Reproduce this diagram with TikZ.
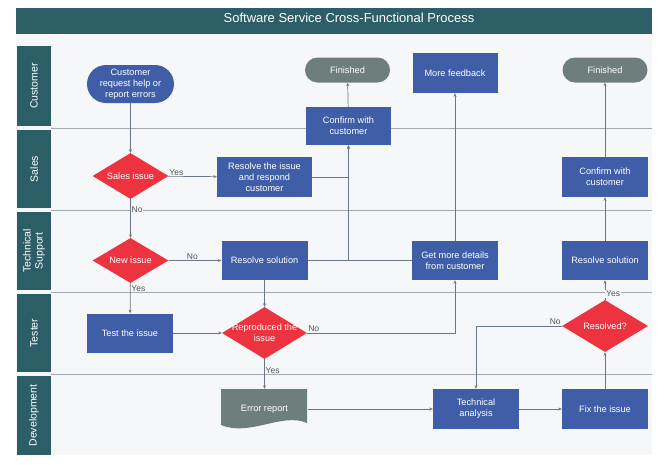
\documentclass[tikz,border=0pt]{standalone}
\usepackage{fontspec}
\setmainfont{Liberation Sans}
\usetikzlibrary{shapes.geometric,arrows.meta}

\definecolor{laneteal}{HTML}{2C5E67}
\definecolor{procblue}{HTML}{3F5EA7}
\definecolor{decred}{HTML}{EE3340}
\definecolor{termgray}{HTML}{6E7E7D}
\definecolor{panelbg}{HTML}{F6F7F8}
\definecolor{linegray}{HTML}{6B7686}
\definecolor{sepgray}{HTML}{A4AAAE}
\definecolor{textgray}{HTML}{505458}

\begin{document}
\begin{tikzpicture}[x=1pt,y=-1pt,
    proc/.style={rectangle,fill=procblue,text=white,minimum width=86pt,minimum height=39pt,
        inner sep=1pt,align=center,font=\fontsize{9.2}{11}\selectfont},
    term/.style={rectangle,rounded corners=12.5pt,fill=termgray,text=white,minimum width=85pt,
        minimum height=25pt,inner sep=1pt,font=\fontsize{9.2}{11}\selectfont},
    decide/.style={diamond,fill=decred,minimum width=76pt,minimum height=46pt,inner sep=0pt},
    dtxt/.style={text=white,align=center,inner sep=0pt,font=\fontsize{9.2}{11}\selectfont},
    lanelbl/.style={rectangle,fill=laneteal,text=white,rotate=90,minimum height=34pt,
        inner sep=0pt,align=center,font=\fontsize{10.5}{12}\selectfont},
    yn/.style={text=textgray,fill=panelbg,inner sep=0.8pt,font=\fontsize{8.5}{10}\selectfont},
    link/.style={draw=linegray,line width=0.7pt},
    linkto/.style={link,-{Stealth[length=3.5pt,width=3pt]}}]
\useasboundingbox (0,0) rectangle (669,464);
\fill[white] (0,0) rectangle (669,464);
\fill[panelbg] (16,35) rectangle (652,455);
\fill[laneteal] (16,8) rectangle (652,34);
\node[text=white,font=\fontsize{13}{15}\selectfont] (title) at (349,18) {Software Service Cross-Functional Process};

% lanes
\node[lanelbl,minimum width=80pt] (lcust) at (34,86) {Customer};
\node[lanelbl,minimum width=78pt] (lsales) at (34,169) {Sales};
\node[lanelbl,minimum width=78pt] (lsupp) at (34,251) {Technical\\Support};
\node[lanelbl,minimum width=78pt] (ltest) at (34,333) {Tester};
\node[lanelbl,minimum width=79pt] (ldev) at (34,415.5) {Development};
\foreach \y in {128,210,292,374}
    \draw[sepgray,line width=0.9pt] (51,\y) -- (652,\y);

% shapes
\node[proc,rounded corners=19pt,minimum width=87pt,minimum height=38pt] (cust) at (130.5,84) {Customer\\request help or\\report errors};
\node[term] (fin1) at (347.5,70) {Finished};
\node[proc,minimum width=85pt,minimum height=40pt] (more) at (455,73) {More feedback};
\node[term] (fin2) at (605,70) {Finished};
\node[proc,minimum width=85pt,minimum height=38pt] (conf1) at (348.5,126) {Confirm with\\customer};

\node[decide,label={[dtxt]center:Sales issue}] (s1) at (130.5,176) {};
\node[proc,minimum width=95pt,minimum height=40pt] (res1) at (264.5,177) {Resolve the issue\\and respond\\customer};
\node[proc,minimum height=40pt] (conf2) at (605,177) {Confirm with\\customer};

\node[decide,minimum height=45pt,label={[dtxt]center:New issue}] (s2) at (130.5,260.5) {};
\node[proc] (rs1) at (264.5,260.5) {Resolve solution};
\node[proc] (gmd) at (455,260.5) {Get more details\\from customer};
\node[proc] (rs2) at (605,260.5) {Resolve solution};

\node[proc] (test) at (130,333) {Test the issue};
\node[decide,minimum width=85pt,minimum height=52pt,label={[dtxt]center:Reproduced the\\issue}] (rep) at (264.5,333) {};
\node[decide,minimum width=86pt,minimum height=52pt,label={[dtxt]center:Resolved?}] (rsd) at (605,326) {};

\fill[termgray] (221,389) -- (307,389) -- (307,423) .. controls (282,412) and (250,437) .. (221,425) -- cycle;
\node[text=white,minimum width=86pt,minimum height=40pt,font=\fontsize{9.2}{11}\selectfont] (err) at (264.5,409) {Error report};
\node[proc,minimum height=40pt] (ta) at (476,409) {Technical\\analysis};
\node[proc,minimum height=40pt] (fix) at (605,409) {Fix the issue};

% connectors
\draw[linkto] (cust) -- (s1);
\draw[linkto] (s1) -- node[yn,above right,pos=0] (yes1) {Yes} (res1);
\draw[linkto] (s1) -- node[yn,right,pos=0.27] (no1) {No} (s2);
\draw[linkto] (s2) -- node[yn,above,pos=0.45] (no2) {No} (rs1);
\draw[linkto] (s2) -- node[yn,right,pos=0.17] (yes2) {Yes} (test);
\draw[link] (rs1) -- (gmd);
\draw[linkto] (res1) -| (conf1);
\draw[linkto] (rs1) -| (conf1);
\draw[linkto] (conf1) -- (fin1);
\draw[linkto] (gmd) -- (more);
\draw[linkto] (rs1) -- (rep);
\draw[linkto] (test) -- (rep);
\draw[linkto] (rep) -| node[yn,above right,pos=0] (no3) {No} (gmd);
\draw[linkto] (rep) -- node[yn,right,pos=0.38] (yes3) {Yes} (err);
\draw[linkto] (err) -- (ta);
\draw[linkto] (ta) -- (fix);
\draw[linkto] (fix) -- (rsd);
\draw[linkto] (rsd) -| node[yn,above left,pos=0] (no4) {No} (ta);
\draw[linkto] (rsd) -- node[yn,right,pos=0.3] (yes4) {Yes} (rs2);
\draw[linkto] (rs2) -- (conf2);
\draw[linkto] (conf2) -- (fin2);
\end{tikzpicture}
\end{document}
